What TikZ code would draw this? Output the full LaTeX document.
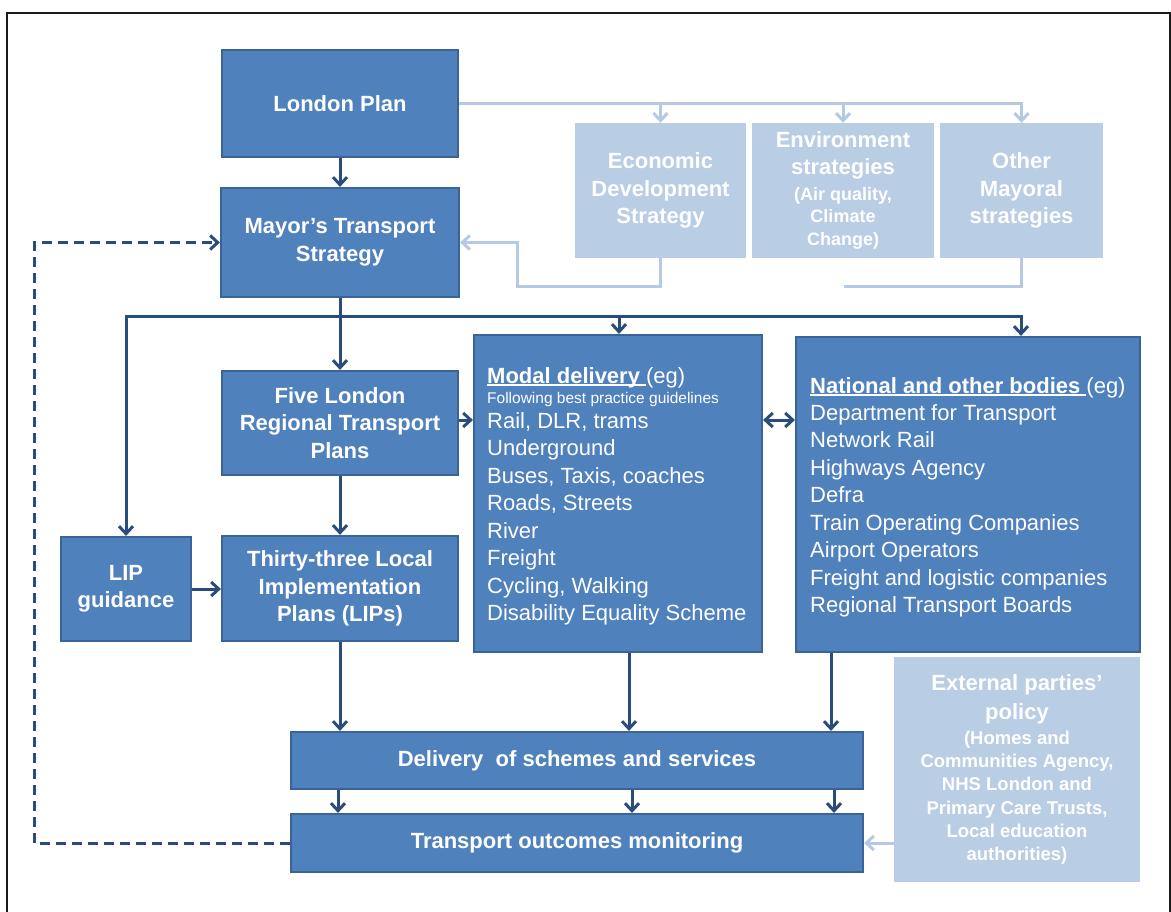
\documentclass[tikz,border=0pt]{standalone}
\usepackage{fontspec}
\setmainfont{Liberation Sans}
\usetikzlibrary{arrows.meta}
\definecolor{boxfill}{HTML}{4F81BD}
\definecolor{boxline}{HTML}{3B6496}
\definecolor{lightfill}{HTML}{B9CDE5}
\definecolor{lightline}{HTML}{B4C9E4}
\definecolor{conn}{HTML}{2A4C7D}
\definecolor{framec}{HTML}{1A1A1A}
\newcommand{\myul}[1]{\setbox0\hbox{#1}\rlap{\rule[-2.6pt]{\wd0}{1.5pt}}\box0}
\begin{document}
\begin{tikzpicture}[x=1pt,y=-1pt,
 >={Straight Barb[length=7.5pt,width=14pt]},
 dkbox/.style={draw=boxline, line width=2.2pt, fill=boxfill, text=white, inner sep=0pt, align=center, font=\fontsize{22}{27.5}\selectfont\bfseries},
 ltbox/.style={draw=none, fill=lightfill, text=white, inner sep=0pt, align=center, font=\fontsize{22}{27.5}\selectfont\bfseries},
 sz/.style 2 args={minimum width=#1pt, minimum height=#2pt},
 listtxt/.style={anchor=base west, inner sep=0pt, text=white, font=\fontsize{22}{26}\selectfont},
 smalltxt/.style={anchor=base west, inner sep=0pt, text=white, font=\fontsize{15.5}{18}\selectfont},
 dk/.style={draw=conn, line width=3pt},
 dka/.style={dk, ->},
 lt/.style={draw=lightline, line width=3pt},
 lta/.style={lt, ->},
 fb/.style={draw=conn, line width=3pt, dash pattern=on 10pt off 6pt, ->},
]
\useasboundingbox (0,0) rectangle (1171,912);
\draw[line width=2pt, framec] (7,915) -- (7,13) -- (1170,13) -- (1170,915);

% boxes
\node[dkbox, sz={236}{107}] (lp) at (340,103.5) {London Plan};
\node[dkbox, sz={238}{109}] (mts) at (340,242.5) {Mayor’s Transport\\Strategy};
\node[ltbox, sz={171}{135}] (econ) at (660.5,190.5) {Economic\\Development\\Strategy};
\node[ltbox, sz={182}{135}] (env) at (843,190.5) {Environment\\[-0.5pt]strategies\\[-1.5pt]{\fontsize{18}{22}\selectfont (Air quality,}\\[-5.5pt]{\fontsize{18}{22}\selectfont Climate}\\[-4.5pt]{\fontsize{18}{22}\selectfont Change)}};
\node[ltbox, sz={163}{135}] (other) at (1021.5,190.5) {Other\\Mayoral\\strategies};
\node[dkbox, sz={236}{104}] (five) at (340,423) {Five London\\Regional Transport\\Plans};
\node[dkbox, sz={236}{105}] (thirty) at (340,588.5) {Thirty-three Local\\Implementation\\Plans (LIPs)};
\node[dkbox, sz={130}{104}] (lip) at (126,589) {LIP\\guidance};
\node[dkbox, sz={288}{317}] (modal) at (618,493.5) {};
\node[dkbox, sz={344}{315}] (nat) at (968,494.5) {};
\node[dkbox, sz={572}{57}] (deliv) at (577,760.5) {Delivery\ \ of schemes and services};
\node[dkbox, sz={572}{58}] (out) at (577,843) {Transport outcomes monitoring};
\node[ltbox, sz={246}{225}] (ext) at (1017,769.5) {External parties’\\[1.5pt]policy\\[-2.5pt]{\fontsize{18.5}{22}\selectfont (Homes and}\\[-4.2pt]{\fontsize{18.5}{22}\selectfont Communities Agency,}\\[-4.2pt]{\fontsize{18.5}{22}\selectfont NHS London and}\\[-4.2pt]{\fontsize{18.5}{22}\selectfont Primary Care Trusts,}\\[-4.2pt]{\fontsize{18.5}{22}\selectfont Local education}\\[-4.2pt]{\fontsize{18.5}{22}\selectfont authorities)}};

% modal text
\node[listtxt] (mtitle) at (487,383) {\myul{\textbf{Modal delivery }}(eg)};
\node[smalltxt] (msub) at (487,403) {Following best practice guidelines};
\foreach \t [count=\i from 0] in {{Rail, DLR, trams},Underground,{Buses, Taxis, coaches},{Roads, Streets},River,Freight,{Cycling, Walking},Disability Equality Scheme}
  \node[listtxt] (ml\i) at (487,428+27.5*\i) {\t};

% national text
\node[listtxt] (ntitle) at (810,393) {\myul{\textbf{National and other bodies }}(eg)};
\foreach \t [count=\i from 0] in {Department for Transport,Network Rail,Highways Agency,Defra,Train Operating Companies,Airport Operators,Freight and logistic companies,Regional Transport Boards}
  \node[listtxt] (nl\i) at (810,420+27.5*\i) {\t};

% connectors
\draw[dka] (lp.south) -- (mts.north);
\draw[lta] (lp.east) -| (other.north);
\draw[lta] (econ.north |- lp.east) -- (econ.north);
\draw[lta] (env.north |- lp.east) -- (env.north);
\coordinate (retc) at (517,287);
\draw[lta] (econ.south) |- (retc) |- (mts.east);
\coordinate (envgap) at (844,287);
\draw[lt] (other.south) |- (envgap);

\coordinate (fbc) at (34,500);
\draw[fb] (out.west) -| (fbc) |- (mts.west);

\coordinate (hub) at (340,317);
\draw[dk] (mts.south) -- (hub);
\draw[dka] (hub) -- (five.north);
\draw[dka] (hub) -| (lip.north);
\draw[dka] (hub) -| ([xshift=1pt]modal.north);
\draw[dka] (hub) -| ([xshift=53pt]nat.north);
\draw[dka] (five.south) -- (thirty.north);
\draw[dka] (lip.east) -- (lip.east -| thirty.west);
\coordinate (mr) at (470,420);
\draw[dka] (five.east |- mr) -- (modal.west |- mr);
\draw[dk, <->] (modal.east |- mr) -- (nat.west |- mr);

\draw[dka] (thirty.south) -- (thirty.south |- deliv.north);
\draw[dka] ([xshift=11pt]modal.south) -- ([xshift=11pt]modal.south |- deliv.north);
\draw[dka] ([xshift=-137pt]nat.south) -- ([xshift=-137pt]nat.south |- deliv.north);
\foreach \dx in {-239,55,257}
  \draw[dka] ([xshift=\dx pt]deliv.south) -- ([xshift=\dx pt]out.north);
\draw[lta] (ext.west |- out.east) -- (out.east);
\end{tikzpicture}
\end{document}
